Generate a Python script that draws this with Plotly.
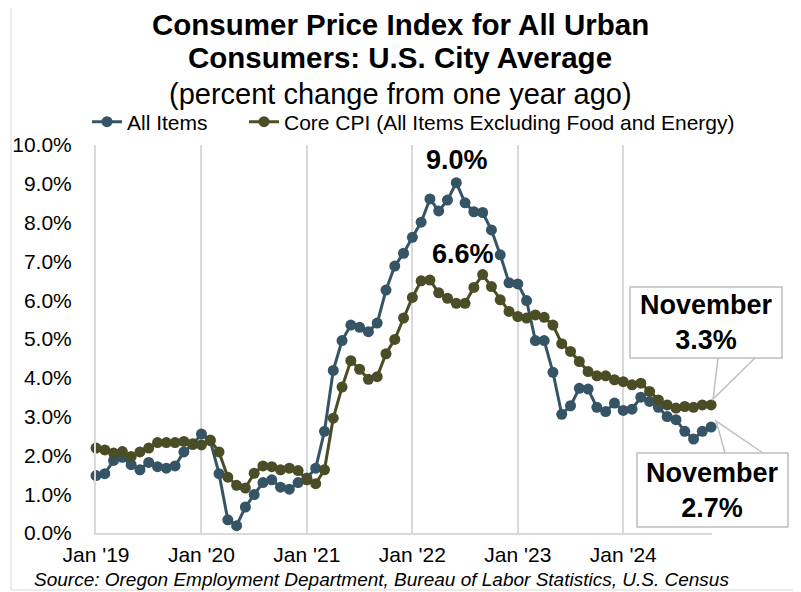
import plotly.graph_objects as go

FONT = "Liberation Sans, Arial, sans-serif"

# ---------------- data (percent change from one year ago) ----------------
months = [f"{y}-{m:02d}" for y in range(2019, 2025) for m in range(1, 13)][:71]

all_items = [
    1.48, 1.53, 1.87, 1.95, 1.76, 1.63, 1.82, 1.71, 1.67, 1.73, 2.09, 2.28,   # 2019
    2.55, 2.38, 1.53, 0.34, 0.19, 0.67, 0.99, 1.30, 1.37, 1.18, 1.13, 1.30,   # 2020
    1.42, 1.67, 2.62, 4.19, 4.96, 5.36, 5.30, 5.19, 5.41, 6.26, 6.88, 7.21,   # 2021
    7.62, 8.01, 8.61, 8.30, 8.58, 9.03, 8.51, 8.28, 8.26, 7.81, 7.17, 6.45,   # 2022
    6.42, 5.99, 4.96, 4.96, 4.14, 3.06, 3.28, 3.73, 3.71, 3.24, 3.13, 3.35,   # 2023
    3.16, 3.19, 3.50, 3.39, 3.24, 3.00, 2.92, 2.62, 2.42, 2.62, 2.73,         # 2024
]
core_cpi = [
    2.19, 2.14, 2.06, 2.10, 1.97, 2.09, 2.19, 2.33, 2.33, 2.33, 2.36, 2.30,   # 2019
    2.27, 2.40, 2.09, 1.44, 1.23, 1.16, 1.54, 1.73, 1.71, 1.63, 1.67, 1.61,   # 2020
    1.37, 1.27, 1.63, 2.96, 3.76, 4.44, 4.22, 3.96, 4.03, 4.62, 4.99, 5.54,   # 2021
    6.07, 6.50, 6.52, 6.19, 6.05, 5.92, 5.92, 6.33, 6.66, 6.35, 6.01, 5.71,   # 2022
    5.58, 5.54, 5.62, 5.56, 5.36, 4.88, 4.68, 4.42, 4.16, 4.05, 4.05, 3.95,   # 2023
    3.90, 3.82, 3.86, 3.65, 3.43, 3.30, 3.22, 3.26, 3.24, 3.30, 3.30,         # 2024
]
tick_labels = ["Jan '19", "Jan '20", "Jan '21", "Jan '22", "Jan '23", "Jan '24"]
series_names = ["All Items", "Core CPI (All Items Excluding Food and Energy)"]
peak_labels = ["9.0%", "6.6%"]
last_labels = ["November<br>2.7%", "November<br>3.3%"]
title_lines = ["Consumer Price Index for All Urban", "Consumers: U.S. City Average",
               "(percent change from one year ago)"]
source_text = "Source: Oregon Employment Department, Bureau of Labor Statistics, U.S. Census"

# ---------------- layout geometry (screen pixels) ----------------
SW, SH = 801, 592          # window
OX, OY = 8, 8              # page body margin
W, H = SW - OX, SH - OY    # figure size
L, R, T, B = 96, 89, 145, 59   # plot area edges in screen px
PW, PH = SW - L - R, SH - T - B
XR = [0, 70.1]
YR = [0, 10]

x = list(range(len(months)))
tick_vals = [i for i, m in enumerate(months) if m.endswith("-01")]


def dx(v):
    return L + (v - XR[0]) / (XR[1] - XR[0]) * PW


def dy(v):
    return SH - B - (v - YR[0]) / (YR[1] - YR[0]) * PH


def px(p):
    return (p - L) / PW


def py(p):
    return (SH - B - p) / PH


BLUE = "#355566"
OLIVE = "#4a4d25"
GRID = "#d9d9d9"
CALL = "#bfbfbf"

fig = go.Figure()
for name, vals, col, lg in [(series_names[0], all_items, BLUE, "legend"),
                            (series_names[1], core_cpi, OLIVE, "legend2")]:
    fig.add_trace(go.Scatter(
        x=x, y=vals, name=name, mode="lines+markers",
        line=dict(color=col, width=3),
        marker=dict(color=col, size=11),
        cliponaxis=False, legend=lg,
    ))

shapes = []
annotations = []

shapes.append(dict(type="rect", xref="paper", yref="paper",
                   x0=px(11), x1=px(796), y0=py(590), y1=py(2),
                   line=dict(color=GRID, width=1), layer="below"))

for txt, cy, bold in [(title_lines[0], 24, True), (title_lines[1], 58, True), (title_lines[2], 94, False)]:
    annotations.append(dict(x=px(400), y=py(cy), xref="paper", yref="paper", xanchor="center", yanchor="middle",
                            text=f"<b>{txt}</b>" if bold else txt, showarrow=False,
                            font=dict(family=FONT, size=29.5 if bold else 29, color="black")))

i_pk = all_items.index(max(all_items))
c_pk = core_cpi.index(max(core_cpi))
annotations.append(dict(x=x[i_pk], y=all_items[i_pk], xref="x", yref="y", text=f"<b>{peak_labels[0]}</b>",
                        showarrow=False, yshift=23, xshift=1,
                        font=dict(family=FONT, size=27, color="black")))
annotations.append(dict(x=x[c_pk], y=core_cpi[c_pk], xref="x", yref="y", text=f"<b>{peak_labels[1]}</b>",
                        showarrow=False, yshift=21, xshift=-20,
                        font=dict(family=FONT, size=27, color="black")))

n = len(x) - 1
callouts = [
    (core_cpi[n], (630, 287, 782, 358), ((718, 358), (755, 358)), (2, -6), last_labels[1]),
    (all_items[n], (637, 453, 788, 527), ((725, 453), (763, 453)), (5, -6), last_labels[0]),
]
for val, (bx0, by0, bx1, by1), ((ax_, ay_), (cx_, cy_)), (ox, oy), txt in callouts:
    tx, ty = dx(x[n]) + ox, dy(val) + oy
    shapes.append(dict(type="path", xref="paper", yref="paper",
                       path=f"M {px(ax_)},{py(ay_)} L {px(tx)},{py(ty)} L {px(cx_)},{py(cy_)}",
                       line=dict(color=CALL, width=1.5)))
    shapes.append(dict(type="rect", xref="paper", yref="paper",
                       x0=px(bx0), x1=px(bx1), y0=py(by1), y1=py(by0),
                       line=dict(color=CALL, width=1.5), fillcolor="white"))
    annotations.append(dict(x=px((bx0 + bx1) / 2), y=py((by0 + by1) / 2), xref="paper", yref="paper",
                            text=f"<b>{txt}</b>", showarrow=False, xanchor="center", yanchor="middle",
                            font=dict(family=FONT, size=27, color="black")))

annotations.append(dict(x=px(32), y=py(579), xref="paper", yref="paper", xanchor="left", yanchor="middle",
                        text=f"<i>{source_text}</i>",
                        showarrow=False, font=dict(family=FONT, size=19, color="black")))

leg_common = dict(orientation="h", xref="container", yref="container", xanchor="left", yanchor="middle",
                  font=dict(family=FONT, size=21), bgcolor="rgba(0,0,0,0)")

fig.update_layout(
    width=W, height=H,
    margin=dict(l=L - OX, r=R, t=T - OY, b=B, autoexpand=False),
    paper_bgcolor="white", plot_bgcolor="white",
    font=dict(family=FONT, size=21, color="black"),
    legend=dict(leg_common, x=(87 - OX) / W, y=1 - (122 - OY) / H),
    legend2=dict(leg_common, x=(244 - OX) / W, y=1 - (122 - OY) / H),
    xaxis=dict(range=XR, tickvals=tick_vals, ticktext=tick_labels, showgrid=True, gridcolor=GRID, gridwidth=2,
               showline=True, linecolor=GRID, linewidth=2, zeroline=False, ticks="",
               ticklabelstandoff=2, tickfont=dict(family=FONT, size=21)),
    yaxis=dict(range=YR, dtick=1, tickformat=".1f", ticksuffix="%", showgrid=False,
               showline=True, linecolor=GRID, linewidth=2, zeroline=False, ticks="",
               ticklabelstandoff=18, tickfont=dict(family=FONT, size=21)),
    shapes=shapes, annotations=annotations,
    showlegend=True,
)

fig.write_html("out.html")
